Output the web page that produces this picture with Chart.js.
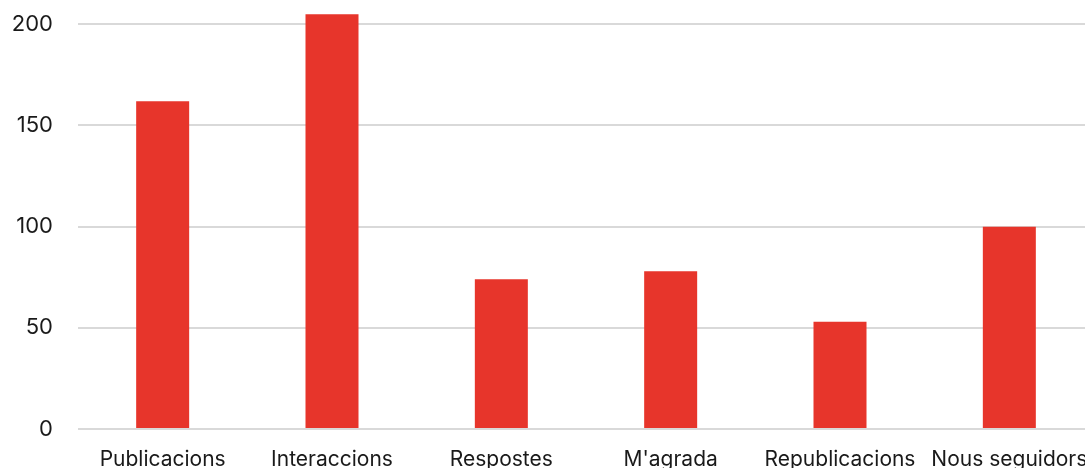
<!DOCTYPE html>
<html>
<head>
<meta charset="utf-8">
<script src="https://cdn.jsdelivr.net/npm/chart.js@4/dist/chart.umd.min.js"></script>
<style>
    html, body { margin: 0; padding: 0; background: #fff; overflow: hidden; }
    #wrap { width: 1094px; height: 470px; }
</style>
</head>
<body>
<div id="wrap"><canvas id="chart" width="1094" height="470"></canvas></div>
<script>
const categories = ['Publicacions', 'Interaccions', 'Respostes', "M'agrada", 'Republicacions', 'Nous seguidors'];
const values = [162, 205, 74, 78, 53, 100];
const yTicks = [0, 50, 100, 150, 200];

const BAR_COLOR = '#E7352B';
const GRID_COLOR = '#D9D9D9';
const TEXT_COLOR = '#1A1A1A';

new Chart(document.getElementById('chart').getContext('2d'), {
    type: 'bar',
    data: {
        labels: categories,
        datasets: [{
            data: values,
            backgroundColor: BAR_COLOR,
            barPercentage: 0.313,
            categoryPercentage: 1,
        }],
    },
    options: {
        responsive: false,
        animation: false,
        layout: { padding: 0 },
        plugins: {
            legend: { display: false },
            tooltip: { enabled: false },
        },
        scales: {
            x: {
                grid: { display: false },
                border: { display: false },
                afterFit: (scale) => {
                    scale.paddingLeft = 0;
                    scale.paddingRight = 0;
                    scale.height = 41;
                },
                ticks: {
                    font: { family: 'Inter', size: 21 },
                    color: TEXT_COLOR,
                    padding: 10,
                    maxRotation: 0,
                    autoSkip: false,
                },
            },
            y: {
                min: 0,
                max: 212,
                afterBuildTicks: (scale) => {
                    scale.ticks = yTicks.map((value) => ({ value }));
                },
                afterFit: (scale) => {
                    scale.paddingTop = 0;
                    scale.paddingBottom = 0;
                    scale.width = 78;
                },
                grid: { color: GRID_COLOR, lineWidth: 2, drawTicks: false },
                border: { display: false },
                ticks: {
                    font: { family: 'Inter', size: 22 },
                    color: TEXT_COLOR,
                    padding: 25,
                },
            },
        },
    },
});
</script>
</body>
</html>
